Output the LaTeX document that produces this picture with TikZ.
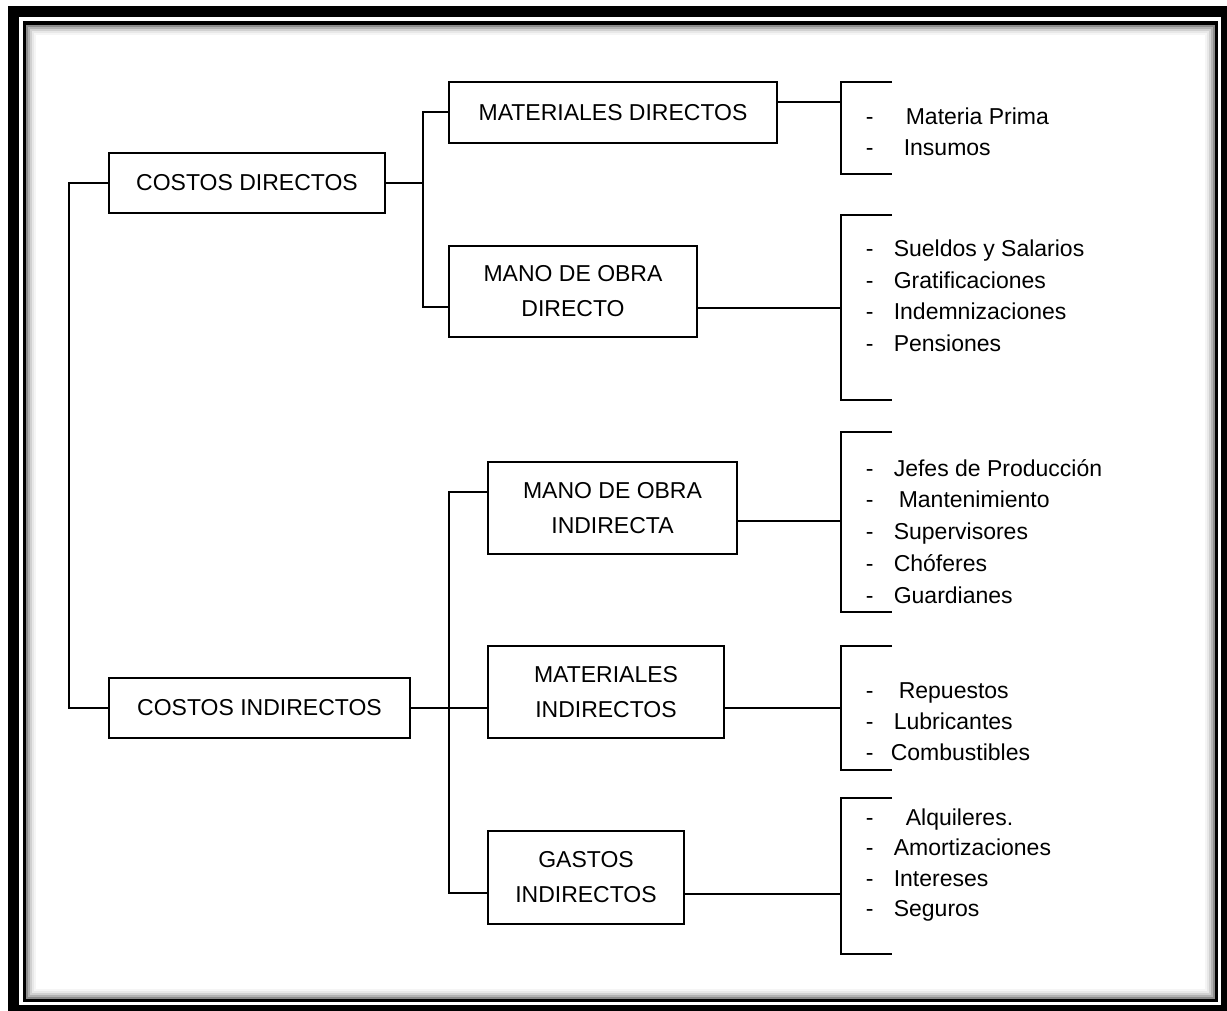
\documentclass[tikz,border=0pt]{standalone}
\usepackage{fontspec}
\setmainfont{Liberation Sans}
\tikzset{
    box/.style={draw, line width=1.6pt, inner sep=0mm, align=center, font=\fontsize{23}{35}\selectfont},
    itemtext/.style={anchor=base west, inner sep=0mm, font=\fontsize{23}{28}\selectfont}
}
\newcommand{\guion}[1][28pt]{\makebox[#1][l]{-}}

\begin{document}
\begin{tikzpicture}[x=1pt, y=-1pt, line width=1.6pt]
        \useasboundingbox (0,0) rectangle (1227,1010);
        % marco
        \draw[line width=11pt] (13.5,11.5) rectangle (1226.5,1010.5);
        \draw[line width=3.5pt] (24.5,23) rectangle (1216.5,1000);
        \draw[line width=2pt, black!45] (27,25.5) rectangle (1214,997.5);
        \draw[line width=2pt, black!30] (29,27.5) rectangle (1212,995.5);
        \draw[line width=2pt, black!18] (31,29.5) rectangle (1210,993.5);
        \draw[line width=2pt, black!9] (33,31.5) rectangle (1208,991.5);
        \draw[line width=2pt, black!4] (35,33.5) rectangle (1206,989.5);
        % cajas
        \node[box, minimum width=276pt, minimum height=60pt] (cd) at (247,183) {COSTOS DIRECTOS};
        \node[box, minimum width=301pt, minimum height=60pt] (ci) at (259.5,708) {COSTOS INDIRECTOS};
        \node[box, minimum width=328pt, minimum height=61pt] (md) at (613,112.5) {MATERIALES DIRECTOS};
        \node[box, minimum width=248pt, minimum height=91pt] (mod) at (573,291.5) {MANO DE OBRA\\DIRECTO};
        \node[box, minimum width=249pt, minimum height=92pt] (moi) at (612.5,508) {MANO DE OBRA\\INDIRECTA};
        \node[box, minimum width=236pt, minimum height=92pt] (mi) at (606,692) {MATERIALES\\INDIRECTOS};
        \node[box, minimum width=196pt, minimum height=93pt] (gi) at (586,877.5) {GASTOS\\INDIRECTOS};
        % listas
        \node[itemtext] (mp) at (865,124) {\guion[40pt]Materia Prima};
        \node[itemtext] (ins) at (865,155) {\guion[38pt]Insumos};
        \node[itemtext] (sue) at (865,256.5) {\guion Sueldos y Salarios};
        \node[itemtext] (gra) at (865,288) {\guion Gratificaciones};
        \node[itemtext] (ind) at (865,319.5) {\guion Indemnizaciones};
        \node[itemtext] (pen) at (865,351.5) {\guion Pensiones};
        \node[itemtext] (jef) at (865,476) {\guion Jefes de Producción};
        \node[itemtext] (man) at (865,507.5) {\guion[33pt]Mantenimiento};
        \node[itemtext] (sup) at (865,539) {\guion Supervisores};
        \node[itemtext] (cho) at (865,571) {\guion Chóferes};
        \node[itemtext] (gua) at (865,603) {\guion Guardianes};
        \node[itemtext] (rep) at (865,698) {\guion[33pt]Repuestos};
        \node[itemtext] (lub) at (865,729) {\guion Lubricantes};
        \node[itemtext] (com) at (865,760) {\guion[25pt]Combustibles};
        \node[itemtext] (alq) at (865,825) {\guion[40pt]Alquileres.};
        \node[itemtext] (amo) at (865,855.5) {\guion Amortizaciones};
        \node[itemtext] (int) at (865,886) {\guion Intereses};
        \node[itemtext] (seg) at (865,916.5) {\guion Seguros};
        % uniones
        \coordinate (jd1) at (423,112);
        \coordinate (jd2) at (423,307);
        \coordinate (ji1) at (449,492);
        \coordinate (ji2) at (449,893);
        \draw (cd.west) -- ++(-39,0) |- (ci.west);
        \draw (cd.east) -- (cd.east -| jd1);
        \draw (md.west |- jd1) -- (jd1) -- (jd2) -- (mod.west |- jd2);
        \draw (ci.east) -- (mi.west |- ci.east);
        \draw (moi.west |- ji1) -- (ji1) -- (ji2) -- (gi.west |- ji2);
        % llaves
        \coordinate (b1) at (841,102);
        \coordinate (b2) at (841,308);
        \coordinate (b3) at (841,521);
        \coordinate (b4) at (841,708);
        \coordinate (b5) at (841,894);
        \draw (892,82) -- (841,82) -- (841,174) -- (892,174);
        \draw (892,215) -- (841,215) -- (841,400) -- (892,400);
        \draw (892,432) -- (841,432) -- (841,612) -- (892,612);
        \draw (892,646) -- (841,646) -- (841,770) -- (892,770);
        \draw (892,798) -- (841,798) -- (841,954) -- (892,954);
        \draw (md.east |- b1) -- (b1);
        \draw (mod.east |- b2) -- (b2);
        \draw (moi.east |- b3) -- (b3);
        \draw (mi.east |- b4) -- (b4);
        \draw (gi.east |- b5) -- (b5);
\end{tikzpicture}
\end{document}
